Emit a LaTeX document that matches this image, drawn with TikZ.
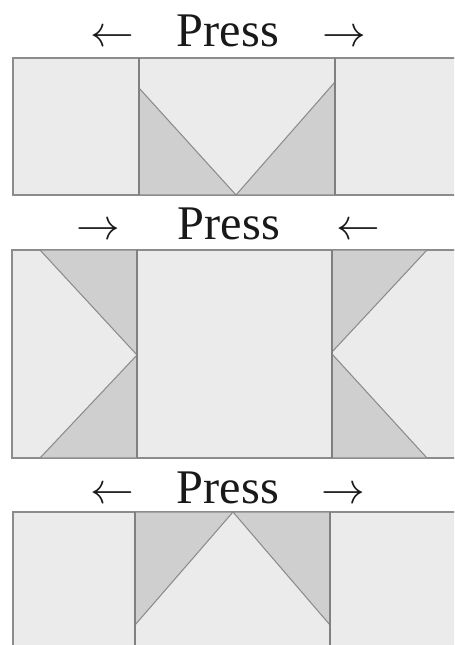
\documentclass[tikz,border=0pt]{standalone}
\usepackage{fontspec}
\setmainfont{Liberation Serif}
\begin{document}
\begin{tikzpicture}[x=0.02cm, y=-0.02cm,
    patch/.style={fill=black!8, draw=black!45, line width=0.6pt},
    darktri/.style={fill=black!19, draw=black!45, line width=0.6pt, line join=round},
    seam/.style={draw=black!50, line width=0.7pt},
    lbl/.style={inner sep=0pt, anchor=base, text=black!90, font=\fontsize{27.5}{30}\selectfont}]
  \useasboundingbox (0,0) rectangle (454,645);
  \clip (0,0) rectangle (454,645);
  % Labels
  \foreach \name/\x/\y/\txt in {press1/228/47/Press, la1/112/47/$\leftarrow$, ra1/344/47/$\rightarrow$,
      press2/229/239/Press, ra2/98/239/$\rightarrow$, la2/358/239/$\leftarrow$,
      press3/228/503/Press, la3/112/503/$\leftarrow$, ra3/343/503/$\rightarrow$}
    \node[lbl] (\name) at (\x,\y) {\txt};
  % Top strip
  \draw[patch] (13,58) rectangle (460,195);
  \draw[darktri] (139,88) -- (139,195) -- (236,195) -- cycle;
  \draw[darktri] (335,82) -- (335,195) -- (236,195) -- cycle;
  \draw[seam] (139,58) -- (139,195);
  \draw[seam] (335,58) -- (335,195);
  % Middle strip
  \draw[patch] (12,250) rectangle (460,458);
  \draw[darktri] (40,250) -- (137,250) -- (137,355) -- cycle;
  \draw[darktri] (40,458) -- (137,458) -- (137,355) -- cycle;
  \draw[darktri] (332,250) -- (427,250) -- (332,352) -- cycle;
  \draw[darktri] (332,458) -- (427,458) -- (332,354) -- cycle;
  \draw[seam] (137,250) -- (137,458);
  \draw[seam] (332,250) -- (332,458);
  % Bottom strip
  \draw[patch] (13,512) rectangle (460,660);
  \draw[darktri] (135,512) -- (233,512) -- (135,625) -- cycle;
  \draw[darktri] (233,512) -- (330,512) -- (330,625) -- cycle;
  \draw[seam] (135,512) -- (135,660);
  \draw[seam] (330,512) -- (330,660);
\end{tikzpicture}
\end{document}
